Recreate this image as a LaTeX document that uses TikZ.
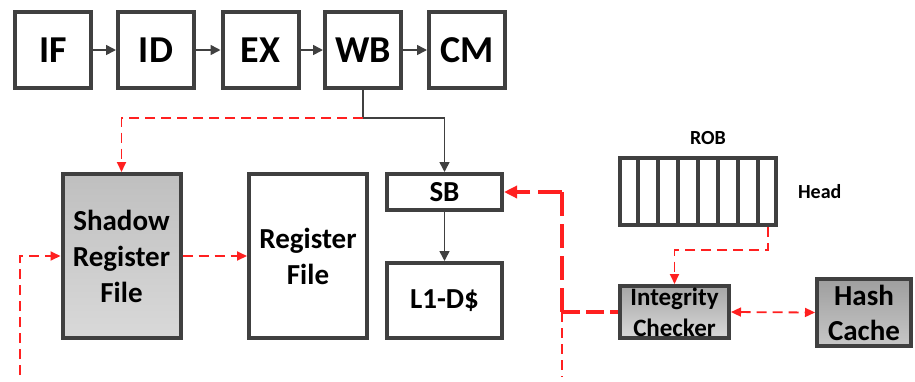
\documentclass[tikz,border=0pt]{standalone}
\usepackage{fontspec}
\setmainfont{Carlito}
\usetikzlibrary{arrows.meta,calc}
\definecolor{bd}{HTML}{404040}
\definecolor{rd}{HTML}{FF2020}
\begin{document}
\begin{tikzpicture}[x=0.5pt,y=-0.5pt,
  box/.style={draw=bd,line width=2pt,fill=white,inner sep=0pt,align=center},
  stage/.style={box,minimum width=38pt,minimum height=38pt,font=\fontsize{19}{22}\selectfont\bfseries},
  garrow/.style={draw=bd,line width=0.8pt,-{Triangle[length=5pt,width=5pt]}},
  rthin/.style={draw=rd,line width=0.9pt,dash pattern=on 5pt off 3pt},
  rarrow/.style={rthin,-{Triangle[length=5pt,width=4.5pt]}},
  rthick/.style={draw=rd,line width=2pt,dash pattern=on 12pt off 4pt},
  lbl/.style={font=\fontsize{14.5}{18}\selectfont\bfseries}
]
\useasboundingbox (0,0) rectangle (915,381);
% pipeline
\node[stage] (IF) at (53,50) {IF};
\node[stage] (ID) at (156,50) {ID};
\node[stage] (EX) at (260.5,50) {EX};
\node[stage] (WB) at (363,50) {WB};
\node[stage] (CM) at (467,50) {CM};
\foreach \a/\b in {IF/ID,ID/EX,EX/WB,WB/CM} \draw[garrow] (\a.east) -- (\b.west);
% boxes
\node[box,minimum width=59pt,minimum height=82pt,top color=black!25,bottom color=black!15,lbl] (SRF) at (121.5,256) {Shadow\\Register\\File};
\node[box,minimum width=59pt,minimum height=82pt,lbl] (RF) at (308,256) {Register\\File};
\node[box,minimum width=57.5pt,minimum height=18pt,lbl] (SB) at (444.5,192) {SB};
\node[box,minimum width=57.5pt,minimum height=37.5pt,lbl] (L1) at (444.5,300.5) {L1-D\$};
\node[box,minimum width=54.5pt,minimum height=26pt,top color=black!35,bottom color=black!15,font=\fontsize{12.5}{15.5}\selectfont\bfseries] (IC) at (674.5,312) {Integrity\\Checker};
\node[box,minimum width=47pt,minimum height=33.5pt,top color=black!38,bottom color=black!22,font=\fontsize{14.5}{17.5}\selectfont\bfseries] (HC) at (864,312.5) {Hash\\Cache};
% ROB
\node[box,minimum width=78pt,minimum height=33.5pt] (ROB) at (698,191.5) {};
\foreach \i in {1,...,7} \draw[bd,line width=2pt] ($(ROB.north west)+(\i*20,0)$) -- ($(ROB.south west)+(\i*20,0)$);
\node[font=\fontsize{10}{12}\selectfont\bfseries] (ROBl) at (708,138) {ROB};
\node[font=\fontsize{10}{12}\selectfont\bfseries,anchor=west] (head) at (791,192) {Head};
% WB connections
\coordinate (j) at (363,118);
\draw[bd,line width=0.8pt] (WB.south) -- (j);
\draw[garrow] (j) -| (SB.north);
\draw[rarrow] (j) -| (SRF.north);
\draw[garrow] (SB.south) -- (L1.north);
% shadow connections
\coordinate (s1) at (20,375);
\draw[rarrow] (s1) |- (SRF.west);
\draw[rarrow] (SRF.east) -- (RF.west);
% ROB head to IC
\coordinate (rh) at (768,227);
\coordinate (rk) at (768,250);
\draw[rarrow] (rh) -- (rk) -| (IC.north);
\draw[rthin,{Triangle[length=5pt,width=4.5pt]}-{Triangle[length=5pt,width=4.5pt]}] (IC.east) -- (HC.west);
% thick path
\coordinate (v1) at (562,192);
\coordinate (v2) at (562,312);
\coordinate (v3) at (562,377);
\draw[rthick,-{Triangle[length=6.5pt,width=6pt]}] (v1) -- (SB.east);
\draw[rthick] (v1) -- (v2);
\draw[rthick,dash pattern=on 9pt off 3pt] (v2) -- (IC.west);
\draw[rthin] (v2) -- (v3);
\end{tikzpicture}
\end{document}
